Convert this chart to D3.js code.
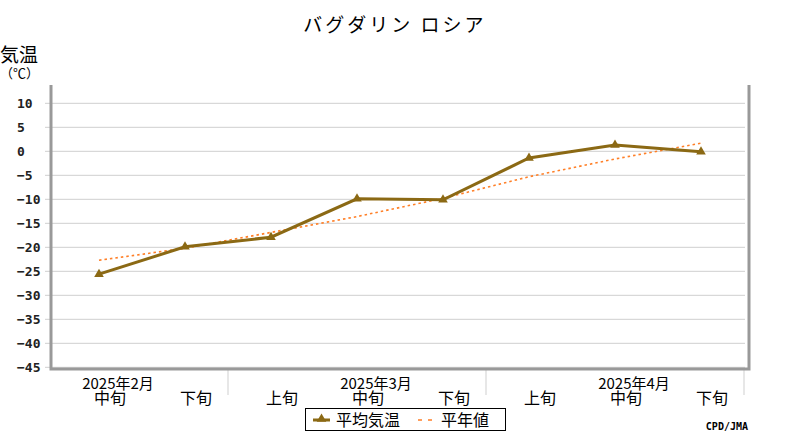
<!DOCTYPE html>
<html>
<head>
<meta charset="utf-8">
<script src="https://cdn.jsdelivr.net/npm/d3@7"></script>
<style>
  body { margin: 0; background: #fff; }
  text { font-family: "Noto Sans CJK JP", sans-serif; fill: #000; }
  .ynum { font-family: "DejaVu Sans Mono", monospace; font-size: 13px; font-weight: bold; fill: #222; }
</style>
</head>
<body>
<svg id="chart" width="800" height="440"></svg>
<script>
// dekad categories (month, dekad)
const months = ['2025年2月', '2025年2月', '2025年3月', '2025年3月', '2025年3月', '2025年4月', '2025年4月', '2025年4月'];
const dekads = ['中旬', '下旬', '上旬', '中旬', '下旬', '上旬', '中旬', '下旬'];
// mean temperature and normal values (deg C)
const meanTemp = [-25.6, -19.9, -17.9, -9.9, -10.1, -1.4, 1.3, -0.1];
const normalTemp = [-22.7, -20.2, -16.9, -13.6, -9.8, -5.3, -1.6, 1.7];
const yTicks = [10, 5, 0, -5, -10, -15, -20, -25, -30, -35, -40, -45];

const FRAME_LEFT = 51;
const FRAME_RIGHT = 749;
const FRAME_TOP = 85;
const FRAME_BOTTOM = 369;
const LINE_COLOR = '#8b6914';
const NORMAL_COLOR = '#ff7f27';

const svg = d3.select('#chart');
const keys = dekads.map((d, i) => i);

const x = d3.scaleBand()
	.domain(keys)
	.range([56, 744])
	.padding(0);
const xc = i => x(i) + x.bandwidth() / 2;

const y = d3.scaleLinear()
	.domain([-45, 10])
	.range([367.3, 103.3]);

// title
svg.append('text')
	.attr('x', 395).attr('y', 23)
	.attr('text-anchor', 'middle')
	.attr('dominant-baseline', 'central')
	.attr('font-size', '19px')
	.attr('letter-spacing', '3px')
	.text('バグダリン ロシア');

// y axis title
svg.append('text')
	.attr('x', 0).attr('y', 53)
	.attr('dominant-baseline', 'central')
	.attr('font-size', '19px')
	.text('気温');
svg.append('text')
	.attr('x', 0).attr('y', 72)
	.attr('dominant-baseline', 'central')
	.attr('font-size', '13px')
	.text('（℃）');

// gridlines + tick labels
svg.append('g')
	.selectAll('line')
	.data(yTicks)
	.join('line')
	.attr('x1', 45).attr('x2', 745)
	.attr('y1', d => y(d)).attr('y2', d => y(d))
	.attr('stroke', '#cfcfcf')
	.attr('stroke-width', 1);

svg.append('g')
	.selectAll('text')
	.data(yTicks)
	.join('text')
	.attr('class', 'ynum')
	.attr('x', 17)
	.attr('y', d => y(d))
	.attr('dominant-baseline', 'central')
	.text(d => d < 0 ? '\u2212' + Math.abs(d) : d);

// month separators below the axis
const sepIdx = keys.filter(i => i === keys.length - 1 || months[i] !== months[i + 1]);
svg.append('g')
	.selectAll('line')
	.data(sepIdx)
	.join('line')
	.attr('x1', i => x(i) + x.bandwidth()).attr('x2', i => x(i) + x.bandwidth())
	.attr('y1', FRAME_BOTTOM).attr('y2', 395)
	.attr('stroke', '#cfcfcf')
	.attr('stroke-width', 1);

// frame
const frame = svg.append('g').attr('stroke', '#999').attr('stroke-width', 3).attr('fill', 'none');
frame.append('path')
	.attr('d', `M${FRAME_LEFT},${FRAME_TOP}V${FRAME_BOTTOM}H${FRAME_RIGHT}V${FRAME_TOP}`);

// x labels (the month label sits over the 中旬 label, as in the original)
svg.append('g')
	.selectAll('text')
	.data(keys)
	.join('text')
	.attr('x', i => xc(i) + 11)
	.attr('y', 397)
	.attr('text-anchor', 'middle')
	.attr('dominant-baseline', 'central')
	.attr('font-size', '16px')
	.text(i => dekads[i]);

const monthMid = keys.filter(i => dekads[i] === '中旬');
svg.append('g')
	.selectAll('text')
	.data(monthMid)
	.join('text')
	.attr('x', i => xc(i) + 19)
	.attr('y', 382)
	.attr('text-anchor', 'middle')
	.attr('dominant-baseline', 'central')
	.attr('font-size', '15px')
	.text(i => months[i]);

// normal line
const line = d3.line()
	.x(d => xc(d[0]))
	.y(d => y(d[1]));

svg.append('path')
	.datum(normalTemp.map((v, i) => [i, v]))
	.attr('d', line)
	.attr('fill', 'none')
	.attr('stroke', NORMAL_COLOR)
	.attr('stroke-width', 1.6)
	.attr('stroke-dasharray', '2.5,3');

// mean temperature line
svg.append('path')
	.datum(meanTemp.map((v, i) => [i, v]))
	.attr('d', line)
	.attr('fill', 'none')
	.attr('stroke', LINE_COLOR)
	.attr('stroke-width', 3);

const marker = d3.symbol().type(d3.symbolTriangle).size(40);
svg.append('g')
	.selectAll('path')
	.data(meanTemp)
	.join('path')
	.attr('transform', (d, i) => `translate(${xc(i)},${y(d)})`)
	.attr('d', marker)
	.attr('fill', LINE_COLOR);

// legend
const lg = svg.append('g');
lg.append('rect')
	.attr('x', 305.5).attr('y', 408.5)
	.attr('width', 200).attr('height', 22)
	.attr('fill', '#fff').attr('stroke', '#000').attr('stroke-width', 1);
lg.append('line')
	.attr('x1', 313).attr('x2', 330).attr('y1', 420).attr('y2', 420)
	.attr('stroke', LINE_COLOR).attr('stroke-width', 3);
lg.append('path')
	.attr('transform', 'translate(321.5,419)')
	.attr('d', marker)
	.attr('fill', LINE_COLOR);
lg.append('text')
	.attr('x', 336).attr('y', 419)
	.attr('dominant-baseline', 'central')
	.attr('font-size', '16px')
	.text('平均気温');
lg.append('line')
	.attr('x1', 418).attr('x2', 436).attr('y1', 420).attr('y2', 420)
	.attr('stroke', NORMAL_COLOR).attr('stroke-width', 1.5)
	.attr('stroke-dasharray', '4,6');
lg.append('text')
	.attr('x', 441).attr('y', 419)
	.attr('dominant-baseline', 'central')
	.attr('font-size', '16px')
	.text('平年値');

// credit
svg.append('text')
	.attr('x', 748).attr('y', 426)
	.attr('text-anchor', 'end')
	.attr('dominant-baseline', 'central')
	.style('font-family', '"DejaVu Sans Mono", monospace')
	.style('font-weight', 'bold')
	.attr('font-size', '10px')
	.text('CPD/JMA');
</script>
</body>
</html>
